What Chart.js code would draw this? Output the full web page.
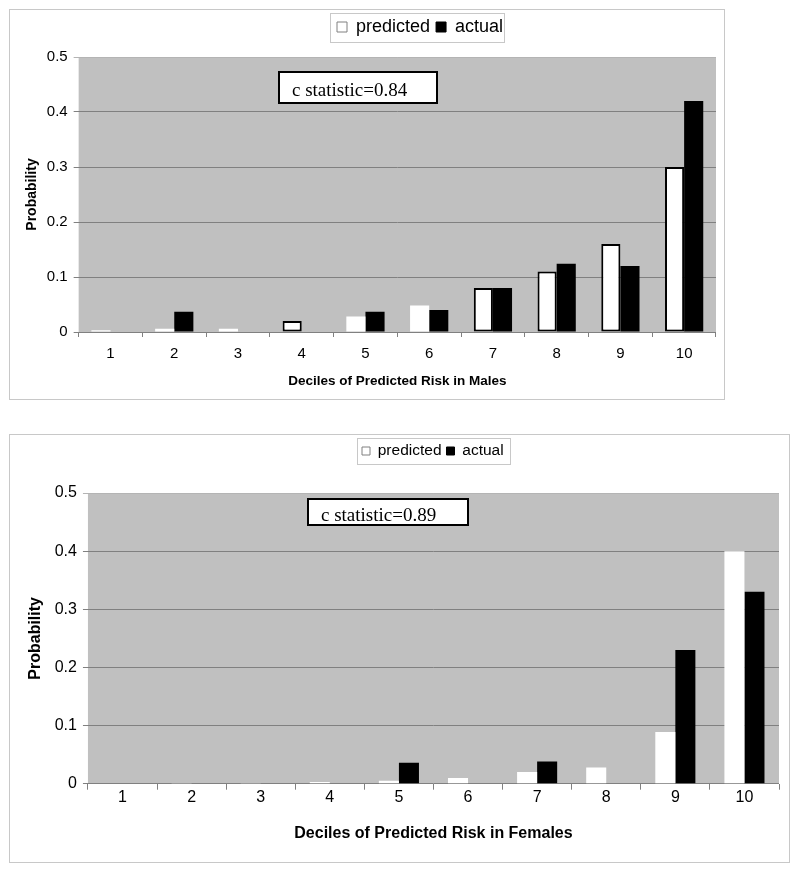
<!DOCTYPE html>
<html><head><meta charset="utf-8">
<script src="https://cdn.jsdelivr.net/npm/chart.js@4.4.1/dist/chart.umd.min.js"></script>
<style>
html,body{margin:0;padding:0;background:#fff;overflow:hidden;width:800px;height:872px;}
.wrap{position:absolute;}
#w1{left:9px;top:9px;width:716px;height:391px;}
#w2{left:9px;top:434px;width:781px;height:429px;}
canvas{display:block;}
</style></head><body>
<div class="wrap" id="w1"><canvas id="c1"></canvas></div>
<div class="wrap" id="w2"><canvas id="c2"></canvas></div>
<script>
// ---- data ----
const deciles = ['1','2','3','4','5','6','7','8','9','10'];
const seriesNames = ['predicted','actual'];
const malesPredicted   = [0.003,0.006,0.006,0.02,0.028,0.048,0.08,0.11,0.16,0.30];
const malesActual      = [0,0.037,0,0,0.037,0.04,0.08,0.124,0.12,0.42];
const femalesPredicted = [0,0.001,0.001,0.003,0.005,0.01,0.02,0.028,0.089,0.40];
const femalesActual    = [0,0,0,0,0.036,0,0.038,0,0.23,0.33];
const yTicks = [0,0.1,0.2,0.3,0.4,0.5];
const cStatMales = 'c statistic=0.84';
const cStatFemales = 'c statistic=0.89';
const xTitleMales = 'Deciles of Predicted Risk in Males';
const xTitleFemales = 'Deciles of Predicted Risk in Females';
const yTitle = 'Probability';

const SANS = '"Liberation Sans", Arial, sans-serif';
const SERIF = '"Liberation Serif", "Times New Roman", serif';
Chart.defaults.devicePixelRatio = 1;

const deco = {
  id: 'deco',
  beforeLayout(chart, args, o) {
    const lg = chart.legend;
    if (lg && !lg._patched) {
      const f = lg.fit;
      lg.fit = function () { f.call(this); if (this.options.display) this.height += o.legendExtra; };
      lg._patched = true;
    }
  },
  afterLayout(chart, args, o) {
    const lg = chart.legend;
    if (!lg || !lg.lineWidths) return;
    const P = lg.options.labels.padding;
    const start = (lg.left + P + lg.right - lg.lineWidths[0]) / 2;
    const dx = o.legendX - start;
    lg.left += dx; lg.right += dx;
  },
  beforeDraw(chart, args, o) {
    const {ctx, chartArea: a, width, height} = chart;
    ctx.save();
    ctx.fillStyle = '#fff';
    ctx.fillRect(0, 0, width, height);
    ctx.fillStyle = '#C0C0C0';
    ctx.fillRect(a.left, a.top, a.right - a.left, a.bottom - a.top);
    ctx.strokeStyle = '#C8C8C8';
    ctx.lineWidth = 1;
    ctx.strokeRect(0.5, 0.5, width - 1, height - 1);
    const b = o.legendBox;
    ctx.strokeRect(b[0] + 0.5, b[1] + 0.5, b[2], b[3]);
    ctx.restore();
  },
  afterDatasetsDraw(chart, args, o) {
    const {ctx} = chart;
    const n = o.note;
    ctx.save();
    ctx.fillStyle = '#fff';
    ctx.fillRect(n.x, n.y, n.w, n.h);
    ctx.strokeStyle = '#000';
    ctx.lineWidth = 2;
    ctx.strokeRect(n.x, n.y, n.w, n.h);
    ctx.fillStyle = '#000';
    ctx.font = n.size + 'px ' + SERIF;
    ctx.textBaseline = 'alphabetic';
    ctx.textAlign = 'left';
    ctx.fillText(n.text, n.tx, n.ty);
    ctx.restore();
  }
};

function build(id, pred, act, s) {
  return new Chart(document.getElementById(id), {
    type: 'bar',
    data: {
      labels: deciles,
      datasets: [
        { label: seriesNames[0], data: pred, backgroundColor: '#FFFFFF', borderColor: '#000000',
          borderWidth: s.predBorder, borderSkipped: false },
        { label: seriesNames[1], data: act, backgroundColor: '#000000', borderWidth: 0 }
      ]
    },
    options: {
      responsive: true,
      maintainAspectRatio: false,
      animation: false,
      datasets: { bar: { categoryPercentage: s.catPct, barPercentage: 1 } },
      layout: { padding: s.pad },
      plugins: {
        tooltip: { enabled: false },
        legend: {
          position: 'top',
          labels: {
            color: '#000',
            font: { family: SANS, size: s.legendFont },
            boxWidth: s.legendBoxSize, boxHeight: s.legendBoxSize,
            padding: s.legendPad,
            generateLabels: chart => chart.data.datasets.map((d, i) => ({
              text: d.label, fillStyle: i ? '#000' : '#fff', strokeStyle: i ? '#000' : '#808080',
              lineWidth: 1, hidden: false, datasetIndex: i, fontColor: '#000'
            }))
          }
        },
        deco: { legendExtra: s.legendExtra, legendX: s.legendX, legendBox: s.legendBox, note: s.note }
      },
      scales: {
        x: {
          grid: { offset: true, drawOnChartArea: false, drawTicks: true, tickLength: s.xTickLen, color: '#808080' },
          border: { display: false },
          ticks: { color: '#000', font: { family: SANS, size: s.tickFont }, padding: s.xTickPad, maxRotation: 0, autoSkip: false },
          title: { display: true, text: s.xTitle, color: '#000', font: { family: SANS, size: s.xTitleFont, weight: 'bold' }, padding: s.xTitlePad }
        },
        y: {
          min: 0, max: 0.5,
          afterBuildTicks: sc => { sc.ticks = yTicks.map(v => ({ value: v })); },
          grid: { color: c => (c.tick && c.tick.value === 0.5) ? '#B4B4B4' : '#808080', tickLength: 5, lineWidth: 1 },
          border: { display: false },
          ticks: { color: '#000', font: { family: SANS, size: s.tickFont }, padding: 6 },
          title: { display: true, text: yTitle, color: '#000', font: { family: SANS, size: s.yTitleFont, weight: 'bold' }, padding: s.yTitlePad }
        }
      }
    },
    plugins: [deco]
  });
}

build('c1', malesPredicted, malesActual, {
  predBorder: [0,0,0,2,0,0,2,2,2,2],
  catPct: 0.6,
  pad: { left: 10, top: 3, right: 9, bottom: 6.9 },
  legendFont: 18, legendBoxSize: 10, legendPad: 6, legendExtra: 11, legendX: 328,
  legendBox: [321, 4, 174, 29],
  note: { x: 270, y: 63, w: 158, h: 31, tx: 283, ty: 87, size: 19, text: cStatMales },
  xTickLen: 5, xTickPad: 8, tickFont: 15,
  xTitle: xTitleMales, xTitleFont: 13.5, xTitlePad: { top: 1.9, bottom: 4 },
  yTitleFont: 14, yTitlePad: { top: 5, bottom: 0 }
});

build('c2', femalesPredicted, femalesActual, {
  predBorder: 0,
  catPct: 0.58,
  pad: { left: 12, top: 4.25, right: 11, bottom: 15.4 },
  legendFont: 15.5, legendBoxSize: 8, legendPad: 5, legendExtra: 24.25, legendX: 353,
  legendBox: [348, 4, 153, 26],
  note: { x: 299, y: 65, w: 160, h: 26, tx: 312, ty: 87, size: 19, text: cStatFemales },
  xTickLen: 6, xTickPad: -2, tickFont: 16,
  xTitle: xTitleFemales, xTitleFont: 16, xTitlePad: { top: 19.5, bottom: 4 },
  yTitleFont: 16, yTitlePad: { top: 4.5, bottom: 4 }
});
</script>
</body></html>
